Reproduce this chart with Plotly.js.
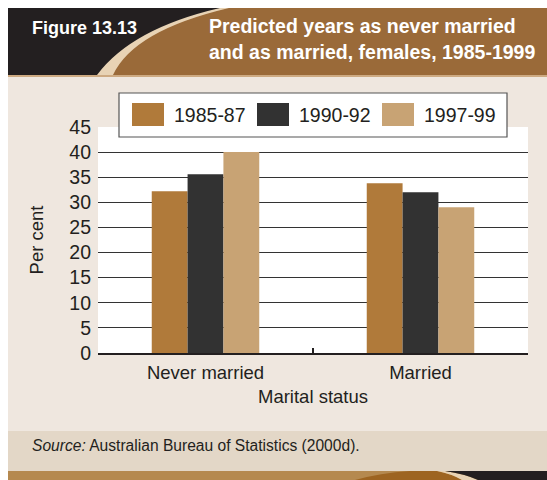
<!DOCTYPE html>
<html>
<head>
<meta charset="utf-8">
<script src="https://cdn.plot.ly/plotly-3.0.1.min.js"></script>
<style>html,body{margin:0;padding:0;background:#fff;}#chart{width:547px;height:480px;}</style>
</head>
<body>
<div id="chart"></div>
<script>
// ---- data ----
var categories = ["Never married", "Married"];
var seriesNames = ["1985-87", "1990-92", "1997-99"];
var values1985 = [32.2, 33.8];
var values1990 = [35.6, 32.0];
var values1997 = [40.0, 29.0];
var yTickValues = [0, 5, 10, 15, 20, 25, 30, 35, 40, 45];
var figureLabel = "Figure 13.13";
var titleLines = ["Predicted years as never married", "and as married, females, 1985-1999"];
var sourceText = "<i>Source:</i> Australian Bureau of Statistics (2000d).";

// ---- styling ----
var colors = ["#B07A3A", "#323232", "#C8A374"];
var FONT = '"Liberation Sans", Arial, sans-serif';
var INK = "#231F20";
var W = 547, H = 480;
var PL = 98, PR = 528, PT = 127, PB = 353;
function fx(p) { return (p - PL) / (PR - PL); }
function fy(p) { return (PB - p) / (PB - PT); }
function path(cmds) {
  return cmds.map(function (c) {
    if (c[0] === "Z") return "Z";
    var s = c[0];
    for (var i = 1; i < c.length; i += 2) s += " " + fx(c[i]).toFixed(5) + "," + fy(c[i + 1]).toFixed(5);
    return s;
  }).join(" ");
}
function rect(x0, y0, x1, y1, fill, layer, line) {
  return {type: "rect", xref: "paper", yref: "paper", x0: fx(x0), x1: fx(x1), y0: fy(y1), y1: fy(y0),
    fillcolor: fill, line: line || {width: 0}, layer: layer || "below"};
}
function pshape(cmds, fill, layer) {
  return {type: "path", xref: "paper", yref: "paper", path: path(cmds), fillcolor: fill, line: {width: 0}, layer: layer || "below"};
}

var seriesValues = [values1985, values1990, values1997];
var traces = seriesNames.map(function (n, i) {
  return {type: "bar", name: n, x: categories, y: seriesValues[i], marker: {color: colors[i], line: {width: 0}},
    hoverinfo: "x+y+name"};
});

var shapes = [
  rect(8, 77, W, 431, "#EFE7DF"),
  rect(8, 8, W, 75, "#9A6A39"),
  rect(8, 75, W, 77, "#CDAA82"),
  pshape([["M", 8, 8], ["L", 229, 8], ["Q", 133.5, 30.5, 113, 75], ["L", 8, 75], ["Z"]], "#E8D3B5"),
  pshape([["M", 8, 8], ["L", 220, 8], ["Q", 131.5, 28.5, 97, 75], ["L", 8, 75], ["Z"]], INK),
  rect(8, 431, W, 471, "#E3D7C7"),
  rect(8, 471, W, 480, "#B5894F"),
  pshape([["M", 410, 471], ["Q", 380, 473, 355, 480], ["L", 462, 480], ["Q", 452, 474, 437, 471], ["Z"]], "#9D6421"),
  pshape([["M", 437, 471], ["L", 445, 471], ["Q", 465, 474, 478, 480], ["L", 462, 480], ["Q", 452, 474, 437, 471], ["Z"]], "#E8D3B5"),
  pshape([["M", 445, 471], ["L", W, 471], ["L", W, 480], ["L", 478, 480], ["Q", 465, 474, 445, 471], ["Z"]], INK),
  rect(PL, PT, PR, PB, "#FFFFFF"),
  rect(119, 93, 507, 137, "#FFFFFF", "above", {color: "#555555", width: 1.2})
];

var annotations = [
  {text: "<b>" + figureLabel + "</b>", xref: "paper", yref: "paper", x: fx(30), y: fy(28.5), xanchor: "left", yanchor: "middle",
    showarrow: false, font: {family: FONT, size: 18, color: "#FFFFFF"}},
  {text: "<b>" + titleLines[0] + "</b>", xref: "paper", yref: "paper", x: fx(207), y: fy(26.5), xanchor: "left", yanchor: "middle",
    showarrow: false, font: {family: FONT, size: 19.5, color: "#FFFFFF"}},
  {text: "<b>" + titleLines[1] + "</b>", xref: "paper", yref: "paper", x: fx(207), y: fy(52), xanchor: "left", yanchor: "middle",
    showarrow: false, font: {family: FONT, size: 19.5, color: "#FFFFFF"}},
  {text: sourceText, xref: "paper", yref: "paper", x: fx(30), y: fy(445), xanchor: "left", yanchor: "middle",
    showarrow: false, font: {family: FONT, size: 15.6, color: INK}}
];

seriesNames.forEach(function (n, i) {
  var sx = 132 + i * 125;
  shapes.push(rect(sx, 103, sx + 32, 126, colors[i], "above"));
  annotations.push({text: n, xref: "paper", yref: "paper", x: fx(sx + 40), y: fy(115), xanchor: "left", yanchor: "middle",
    showarrow: false, font: {family: FONT, size: 19.5, color: INK}});
});

var layout = {
  width: W, height: H,
  margin: {l: PL, r: W - PR, t: PT, b: H - PB, pad: 0},
  paper_bgcolor: "#FFFFFF",
  plot_bgcolor: "#FFFFFF",
  showlegend: false,
  barmode: "group",
  bargap: 0.5,
  bargroupgap: 0,
  font: {family: FONT, size: 19, color: INK},
  xaxis: {
    type: "category",
    tickson: "boundaries",
    ticks: "inside", ticklen: 5, tickwidth: 1.5, tickcolor: INK,
    showline: true, linecolor: INK, linewidth: 2,
    showgrid: false, zeroline: false,
    ticklabelstandoff: 2,
    tickfont: {family: FONT, size: 18.5, color: INK},
    title: {text: "Marital status", font: {family: FONT, size: 18.5, color: INK}, standoff: 8},
    automargin: false
  },
  yaxis: {
    range: [0, 45],
    tickvals: yTickValues,
    ticktext: yTickValues.map(String),
    ticks: "", showline: false,
    showgrid: true, gridcolor: "#333333", gridwidth: 1,
    zeroline: false,
    ticklabelstandoff: 6,
    tickfont: {family: FONT, size: 19.5, color: INK},
    title: {text: "Per cent", font: {family: FONT, size: 18.5, color: INK}, standoff: 20},
    automargin: false
  },
  shapes: shapes,
  annotations: annotations
};

Plotly.newPlot("chart", traces, layout, {displayModeBar: false, staticPlot: true});
</script>
</body>
</html>
